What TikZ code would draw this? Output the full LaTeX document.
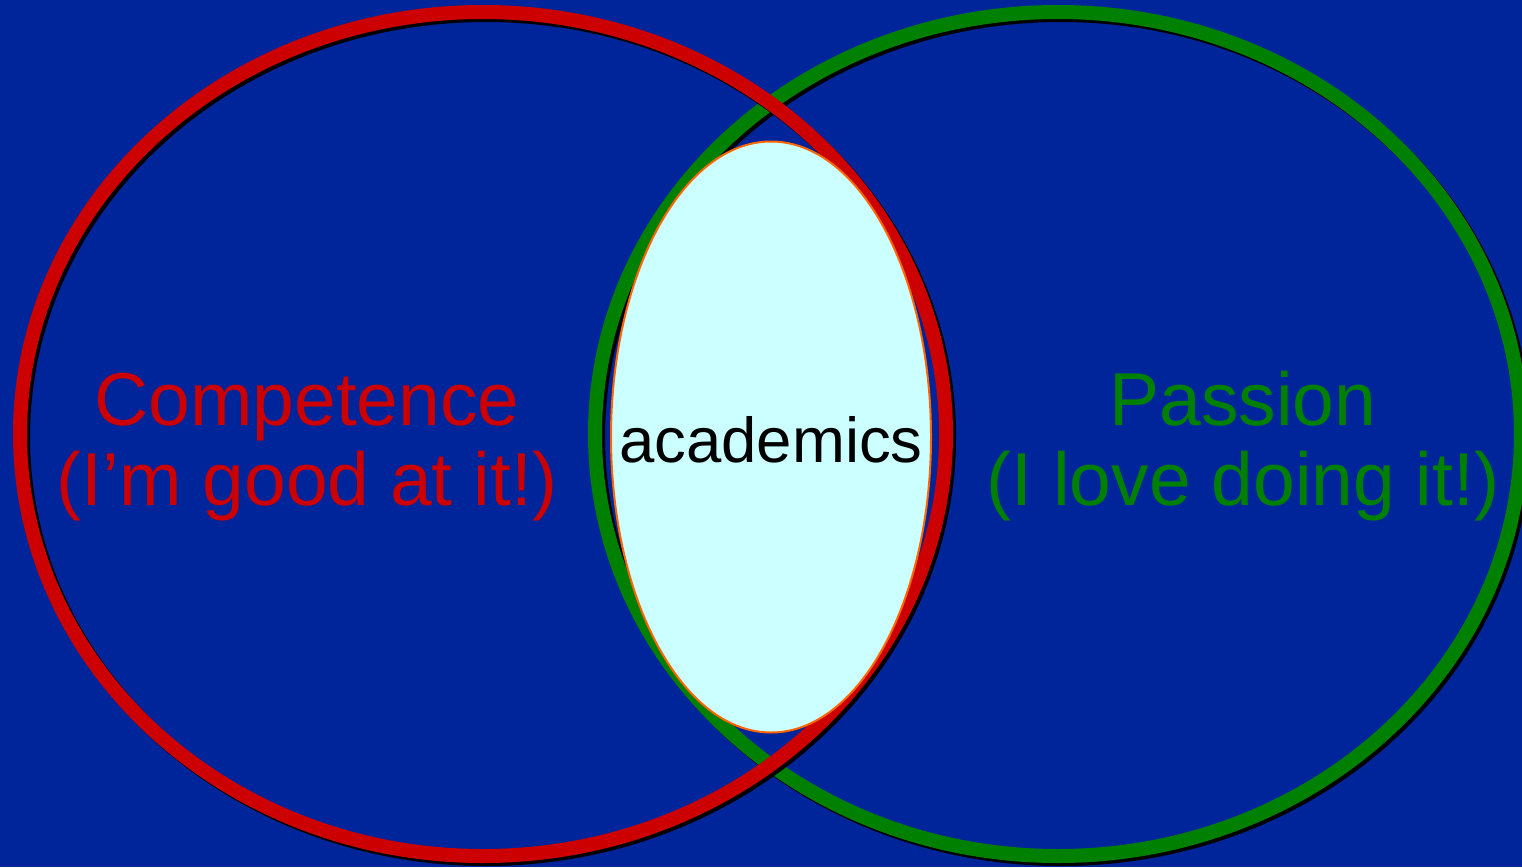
\documentclass[tikz,border=0pt]{standalone}
\usepackage{fontspec}
\setmainfont{Liberation Sans}
\usetikzlibrary{shapes.geometric}
\definecolor{bg}{RGB}{0,36,153}
\definecolor{ringred}{RGB}{204,0,0}
\definecolor{ringgreen}{RGB}{0,128,0}
\definecolor{inner}{RGB}{204,255,255}
\definecolor{edge}{RGB}{255,102,0}
\begin{document}
\begin{tikzpicture}[x=1pt,y=-1pt,
  ring/.style={line width=14pt},
  ringshadow/.style={line width=14pt,draw=black},
  lbl/.style={font=\fontsize{75}{80}\selectfont,align=center,inner sep=0pt}]
\fill[bg] (0,0) rectangle (1522,867);
\useasboundingbox (0,0) rectangle (1522,867);
% green ring
\draw[ringshadow] (1061,437) ellipse [x radius=463, y radius=422];
\draw[ring,draw=ringgreen] (1058,434) ellipse [x radius=463, y radius=422];
% red ring
\draw[ringshadow] (486,437) ellipse [x radius=463, y radius=422];
\draw[ring,draw=ringred] (483,434) ellipse [x radius=463, y radius=422];
% intersection
\node[ellipse, draw=edge, line width=2pt, fill=inner, minimum width=320pt, minimum height=591pt, inner sep=0pt] (acad) at (771,437) {};
\node[font=\fontsize{63.5}{70}\selectfont, anchor=base] (acadtxt) at (771,462) {academics};
\node[lbl, text=ringred, anchor=base] (comp) at (307,425) {Competence};
\node[lbl, text=ringred, anchor=base] (comp2) at (307,505) {(I’m good at it!)};
\node[lbl, text=ringgreen, anchor=base] (pass) at (1243,425) {Passion};
\node[lbl, text=ringgreen, anchor=base] (pass2) at (1243,505) {(I love doing it!)};
\end{tikzpicture}
\end{document}
